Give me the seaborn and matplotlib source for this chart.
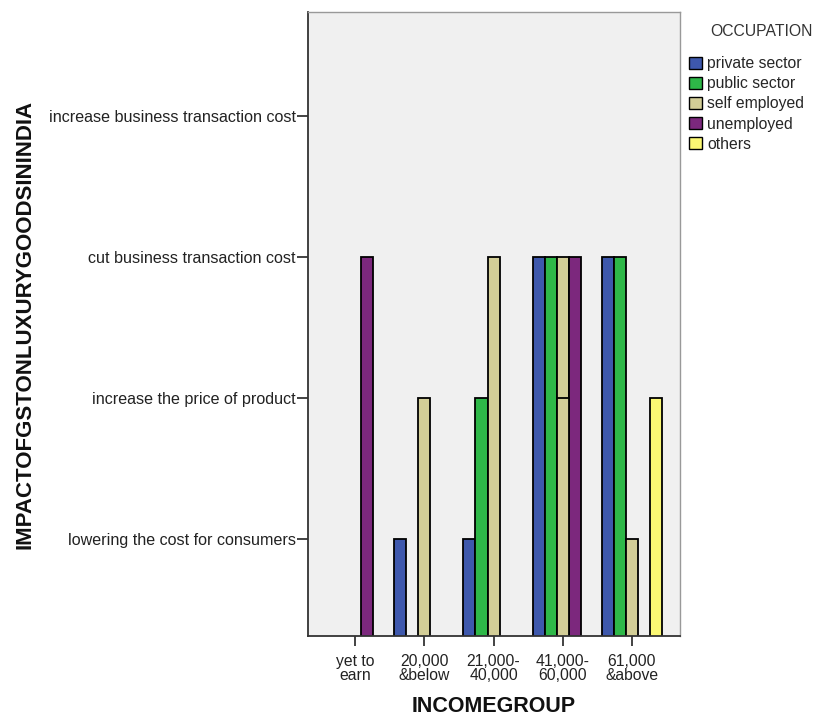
import matplotlib
matplotlib.use("Agg")
import matplotlib.pyplot as plt
import seaborn as sns
import pandas as pd
import numpy as np

# categories
income_groups = ["yet to\nearn", "20,000\n&below", "21,000-\n40,000", "41,000-\n60,000", "61,000\n&above"]
occupations = ["private sector", "public sector", "self employed", "unemployed", "others"]
impact_labels = ["lowering the cost for consumers", "increase the price of product",
                 "cut business transaction cost", "increase business transaction cost"]

# impact level (1..4) per income group, NaN = no bar
private_sector = [np.nan, 1, 1, 3, 3]
public_sector = [np.nan, np.nan, 2, 3, 3]
self_employed = [np.nan, 2, 3, 3, 1]
unemployed = [3, np.nan, np.nan, 3, np.nan]
others = [np.nan, np.nan, np.nan, np.nan, 2]
# second (shorter) self-employed bar drawn over the first in 41,000-60,000
self_employed_overlay = [np.nan, np.nan, np.nan, 2, np.nan]

palette = ["#3E58AC", "#2EB848", "#D3CE97", "#7C287D", "#FBF873"]

series = [private_sector, public_sector, self_employed, unemployed, others]
rows = []
for occ, vals in zip(occupations, series):
    for grp, v in zip(income_groups, vals):
        if not np.isnan(v):
            rows.append({"INCOMEGROUP": grp, "level": v, "OCCUPATION": occ})
df = pd.DataFrame(rows)

over_rows = [{"INCOMEGROUP": g, "level": v, "OCCUPATION": "self employed"}
             for g, v in zip(income_groups, self_employed_overlay) if not np.isnan(v)]
df_over = pd.DataFrame(over_rows)

sns.set_style("white")
plt.rcParams["font.family"] = ["Liberation Sans", "DejaVu Sans"]

fig = plt.figure(figsize=(8.13, 7.19), dpi=100)
ax = fig.add_axes([0.379, 0.1154, 0.457, 0.868])
ax.set_facecolor("#F0F0F0")

common = dict(x="INCOMEGROUP", y="level", hue="OCCUPATION", order=income_groups,
              hue_order=occupations, palette=palette, width=0.87, dodge=True,
              errorbar=None, edgecolor="black", linewidth=1.3, saturation=1, ax=ax)
sns.barplot(data=df, **common)
sns.barplot(data=df_over, legend=False, **common)

ax.set_ylim(0.31, 4.74)
ax.set_xlim(-0.68, 4.69)
ax.set_yticks([1, 2, 3, 4])
ax.set_yticklabels(impact_labels, fontsize=11.6, color="#222222")
ax.set_xticks(range(len(income_groups)))
ax.set_xticklabels(income_groups, fontsize=11.3, color="#222222", linespacing=0.95)
ax.tick_params(axis="y", length=8, width=1.2, color="#222222", direction="out", left=True, pad=1)
ax.tick_params(axis="x", length=7, width=1.2, color="#222222", direction="out", bottom=True, pad=6)

for s in ["left", "bottom"]:
    ax.spines[s].set_color("#333333")
    ax.spines[s].set_linewidth(1.3)
for s in ["top", "right"]:
    ax.spines[s].set_color("#999999")
    ax.spines[s].set_linewidth(1.0)

ax.set_xlabel("INCOMEGROUP", fontsize=15.5, fontweight="bold", labelpad=9, color="#111111")
ax.set_ylabel("IMPACTOFGSTONLUXURYGOODSININDIA", fontsize=16, fontweight="bold", color="#111111")
ax.yaxis.set_label_coords(-0.735, 0.5)

fig.text(710 / 813, 1 - 32 / 719, "OCCUPATION", fontsize=11.3, color="#333333",
         ha="left", va="center")
leg = ax.legend(loc="upper left", bbox_to_anchor=(689 / 813, 1 - 56 / 719),
                bbox_transform=fig.transFigure, frameon=False, fontsize=11.3,
                handlelength=0.8, handleheight=0.8, borderpad=0,
                handletextpad=0.35, labelspacing=0.33, borderaxespad=0)
for h in leg.legend_handles:
    h.set_edgecolor("black")
    h.set_linewidth(1.0)

fig.savefig("out.png", dpi=100)
